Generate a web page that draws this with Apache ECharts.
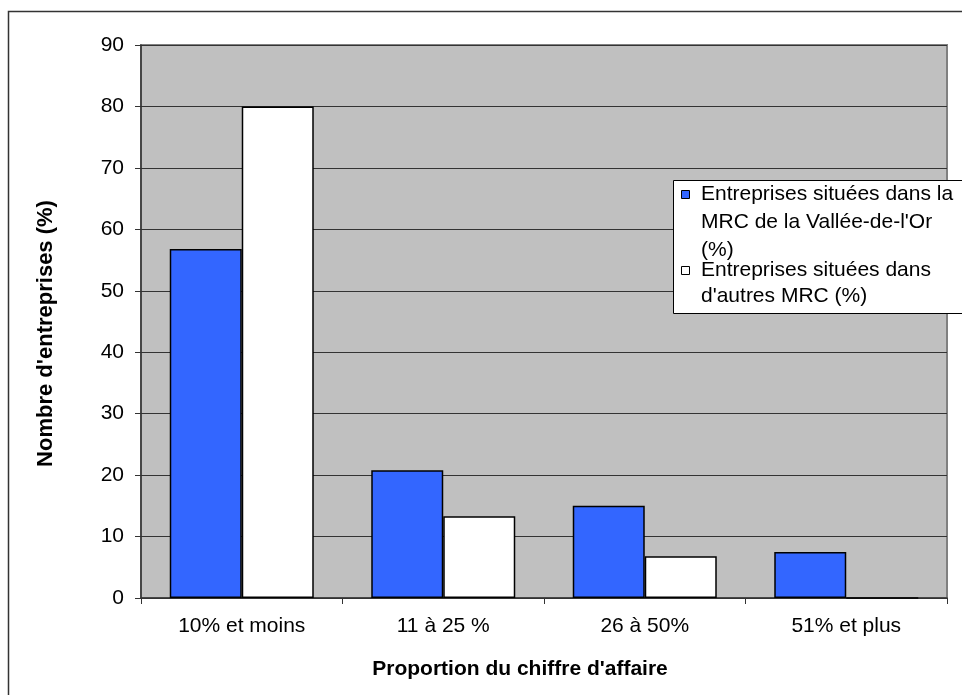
<!DOCTYPE html>
<html>
<head>
<meta charset="utf-8">
<script src="https://cdn.jsdelivr.net/npm/echarts@6/dist/echarts.min.js"></script>
<style>
  html, body { margin: 0; padding: 0; background: #ffffff; }
  #chart { width: 962px; height: 695px; }
</style>
</head>
<body>
<div id="chart"></div>
<script>
// Categories: share of turnover
const categories = ['10% et moins', '11 à 25 %', '26 à 50%', '51% et plus'];
// Series names (also used in the legend box)
const seriesNames = [
  "Entreprises situées dans la\nMRC de la Vallée-de-l'Or\n(%)",
  "Entreprises situées dans\nd'autres MRC (%)"
];
// Values, in percent of firms
const valleeOr = [56.8, 20.8, 15.0, 7.5];
const autresMrc = [80.0, 13.3, 6.8, 0];
// Axis settings
const yMin = 0, yMax = 90, yStep = 10;
const xTitle = "Proportion du chiffre d'affaire";
const yTitle = "Nombre d'entreprises (%)";

const FONT = 'Liberation Sans, Arial, sans-serif';
const chart = echarts.init(document.getElementById('chart'), null, { renderer: 'canvas' });

chart.setOption({
  animation: false,
  backgroundColor: '#ffffff',
  grid: {
    left: 141, right: 15, top: 45, bottom: 97,
    show: true, backgroundColor: '#c0c0c0',
    borderColor: '#808080', borderWidth: 2
  },
  xAxis: {
    type: 'category',
    data: categories,
    name: xTitle,
    nameLocation: 'middle',
    nameGap: 61,
    nameTextStyle: { fontFamily: FONT, fontSize: 21, fontWeight: 'bold', color: '#000', padding: [0, 48, 0, 0] },
    axisLine: { lineStyle: { color: '#333', width: 1.5 } },
    axisTick: { show: true, length: 6, lineStyle: { color: '#333' } },
    axisLabel: { interval: 0, margin: 18, fontFamily: FONT, fontSize: 21, color: '#000' }
  },
  yAxis: {
    type: 'value',
    min: yMin, max: yMax, interval: yStep,
    name: yTitle,
    nameLocation: 'middle',
    nameGap: 84,
    nameTextStyle: { fontFamily: FONT, fontSize: 22, fontWeight: 'bold', color: '#000', padding: [0, 24, 0, 0] },
    axisLine: { show: true, lineStyle: { color: '#333', width: 1.5 } },
    axisTick: { show: true, length: 6, lineStyle: { color: '#333' } },
    axisLabel: { margin: 17, fontFamily: FONT, fontSize: 21, color: '#000' },
    splitLine: { show: true, lineStyle: { color: '#333', width: 1 } }
  },
  series: [
    {
      name: seriesNames[0], type: 'bar', data: valleeOr,
      barWidth: 72, barGap: '0%',
      itemStyle: { color: '#3366ff', borderColor: '#000', borderWidth: 1.5 }
    },
    {
      name: seriesNames[1], type: 'bar', data: autresMrc,
      barWidth: 72, barGap: '0%',
      itemStyle: { color: '#ffffff', borderColor: '#000', borderWidth: 1.5 }
    }
  ],
  graphic: [
    // outer chart frame
    { type: 'rect', silent: true, z: 100,
      shape: { x: 8.5, y: 11.5, width: 1200, height: 1200 },
      style: { fill: 'none', stroke: '#333', lineWidth: 1.5 } },
    // legend box
    { type: 'rect', z: 110,
      shape: { x: 673.5, y: 180.5, width: 320, height: 133 },
      style: { fill: '#ffffff', stroke: '#000', lineWidth: 1 } },
    { type: 'rect', z: 111,
      shape: { x: 681.5, y: 190.5, width: 8, height: 8 },
      style: { fill: '#3366ff', stroke: '#000', lineWidth: 1 } },
    { type: 'text', z: 111, left: 701, top: 180,
      style: { text: seriesNames[0], fontFamily: FONT, fontSize: 21, lineHeight: 28, fill: '#000' } },
    { type: 'rect', z: 111,
      shape: { x: 681.5, y: 266.5, width: 8, height: 8 },
      style: { fill: '#ffffff', stroke: '#000', lineWidth: 1 } },
    { type: 'text', z: 111, left: 701, top: 257,
      style: { text: seriesNames[1], fontFamily: FONT, fontSize: 21, lineHeight: 26, fill: '#000' } }
  ]
});
</script>
</body>
</html>
